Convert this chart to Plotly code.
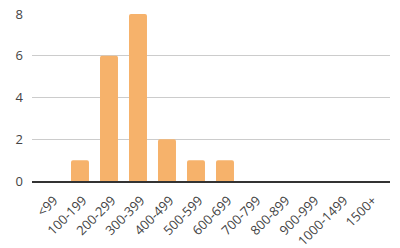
import plotly.graph_objects as go

categories = ["<99", "100-199", "200-299", "300-399", "400-499", "500-599",
              "600-699", "700-799", "800-899", "900-999", "1000-1499", "1500+"]
values = [0, 1, 6, 8, 2, 1, 1, 0, 0, 0, 0, 0]
y_ticks = [0, 2, 4, 6, 8]

fig = go.Figure()
fig.add_trace(go.Bar(
    x=categories, y=values,
    marker=dict(color="#F6B26B", cornerradius=2, line=dict(width=0)),
    width=0.62,
))

fig.update_layout(
    width=400, height=248,
    margin=dict(l=32, r=10, t=14, b=67),
    paper_bgcolor="white", plot_bgcolor="white",
    showlegend=False,
    font=dict(family="Open Sans, Liberation Sans, sans-serif", size=13, color="#444444"),
    xaxis=dict(
        type="category", range=[-0.655, 11.69],
        tickangle=-45, showgrid=False, ticks="",
        showline=True, linecolor="#333333", linewidth=1.5,
        tickfont=dict(size=13, color="#444444"),
        ticklabelstandoff=5, ticklabelshift=3,
        automargin=False,
        fixedrange=True,
    ),
    yaxis=dict(
        range=[0, 8], tickvals=y_ticks,
        showgrid=True, gridcolor="#cccccc", gridwidth=1,
        zeroline=False, showline=False, ticks="",
        tickfont=dict(size=13, color="#444444"),
        ticklabelstandoff=8,
        automargin=False,
        fixedrange=True,
    ),
)

fig.write_html("out.html")
